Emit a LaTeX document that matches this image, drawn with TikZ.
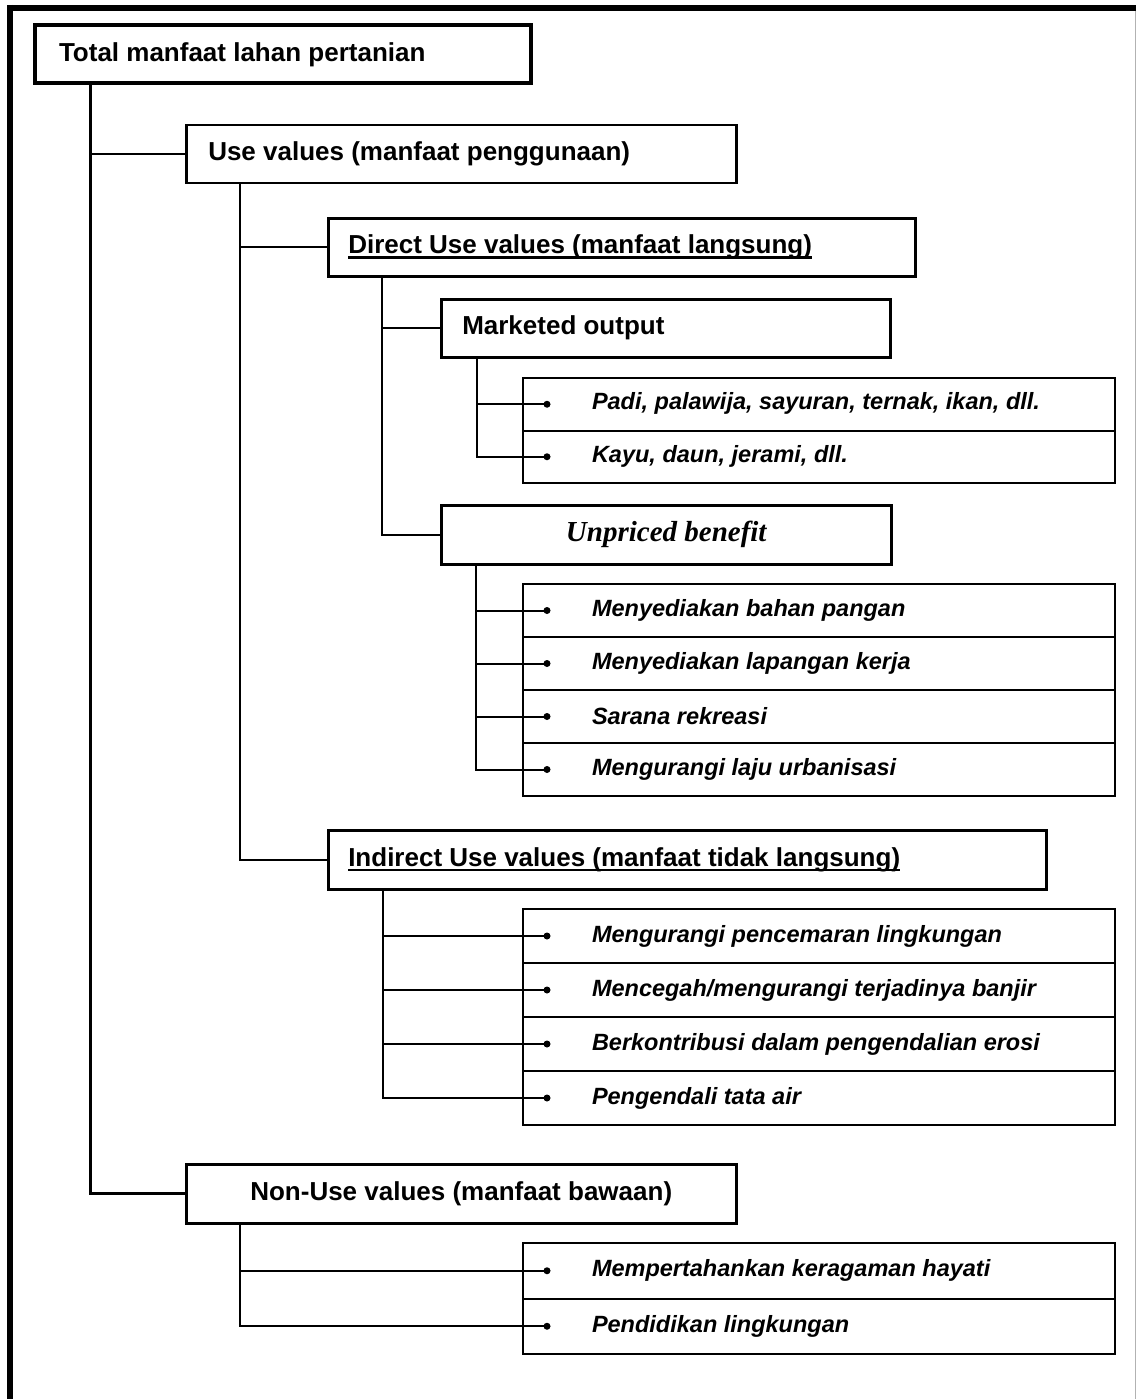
\documentclass[tikz,border=0pt]{standalone}
\usepackage{fontspec}
\setmainfont{Liberation Sans}
\newfontfamily\serifbi{Liberation Serif}
\usetikzlibrary{calc}

% left-padded text line of fixed total width: {width}{left pad}{text}
\newcommand\lpad[3]{\hbox to #1pt{\hspace*{#2pt}#3\hfil}}
% underline drawn through the descenders
\newsavebox\ulbox
\newcommand\hdul[1]{\sbox\ulbox{#1}\rlap{\smash{\rule[-5pt]{\wd\ulbox}{2.6pt}}}\usebox\ulbox}

\begin{document}
\begin{tikzpicture}[x=1pt,y=-1pt,
  hd/.style={draw, line width=2.5pt, anchor=north west, inner sep=0pt,
             font=\fontsize{26}{31}\selectfont\bfseries},
  titlebox/.style={hd, line width=4pt},
  row/.style={draw, line width=2pt, anchor=north west, inner sep=0pt,
              minimum height=#1,
              font=\fontsize{23.5}{28}\selectfont\bfseries\itshape},
  link/.style={line width=2pt},
  trunk/.style={line width=3pt},
  dot/.style={fill=black}
]
\useasboundingbox (0,0) rectangle (1136,1399);

% outer frame
\draw[line width=6pt] (7,8) -- (1136,8);
\draw[line width=6pt] (10,5) -- (10,1399);
\draw[black!30, line width=1pt] (1135,11) -- (1135,1399);

% headings
\node[titlebox, minimum height=58pt] (title) at (33,23.5)
  {\lpad{496}{24}{Total manfaat lahan pertanian}};
\node[hd, minimum height=58pt] (use) at (185,124)
  {\lpad{550}{22}{Use values (manfaat penggunaan)}};
\node[hd, minimum height=58pt] (direct) at (327,217)
  {\lpad{587}{20}{\hdul{Direct Use values (manfaat langsung)}}};
\node[hd, minimum height=58pt] (market) at (440,298)
  {\lpad{449}{21}{Marketed output}};
\node[hd, minimum height=59pt, minimum width=450pt,
      font=\fontsize{29}{34}\selectfont\serifbi\bfseries\itshape] (unpriced) at (440,504)
  {Unpriced benefit};
\node[hd, minimum height=59pt] (indirect) at (327,829)
  {\lpad{718}{20}{\hdul{Indirect Use values (manfaat tidak langsung)}}};
\node[hd, minimum height=59pt, minimum width=550pt] (nonuse) at (185,1163)
  {Non-Use values (manfaat bawaan)};

% item rows
\node[row=52.5pt] (m1) at (522,377)   {\lpad{592}{69}{\raisebox{6pt}{Padi, palawija, sayuran, ternak, ikan, dll.}}};
\node[row=52.5pt] (m2) at (522,429.5) {\lpad{592}{69}{\raisebox{6pt}{Kayu, daun, jerami, dll.}}};

\node[row=53pt] (u1) at (522,583) {\lpad{592}{69}{Menyediakan bahan pangan}};
\node[row=53pt] (u2) at (522,636) {\lpad{592}{69}{Menyediakan lapangan kerja}};
\node[row=53pt] (u3) at (522,689) {\lpad{592}{69}{Sarana rekreasi}};
\node[row=53pt] (u4) at (522,742) {\lpad{592}{69}{Mengurangi laju urbanisasi}};

\node[row=54pt] (i1) at (522,908)  {\lpad{592}{69}{Mengurangi pencemaran lingkungan}};
\node[row=54pt] (i2) at (522,962)  {\lpad{592}{69}{Mencegah/mengurangi terjadinya banjir}};
\node[row=54pt] (i3) at (522,1016) {\lpad{592}{69}{Berkontribusi dalam pengendalian erosi}};
\node[row=54pt] (i4) at (522,1070) {\lpad{592}{69}{Pengendali tata air}};

\node[row=55.5pt] (n1) at (522,1242)   {\lpad{592}{69}{Mempertahankan keragaman hayati}};
\node[row=55.5pt] (n2) at (522,1297.5) {\lpad{592}{69}{Pendidikan lingkungan}};

% bullet points
\foreach \r in {m1,m2,u1,u2,u3,u4,i1,i2,i3,i4,n1,n2}{
  \coordinate (\r b) at ($(\r.west)+(25,0)$);
  \fill[dot] (\r b) circle[radius=3.5pt];
}

% stems below each heading
\coordinate (tstem) at ($(title.south west)+(57.5,0)$);
\coordinate (ustem) at ($(use.south west)+(55,0)$);
\coordinate (dstem) at ($(direct.south west)+(55,0)$);
\coordinate (mstem) at ($(market.south west)+(37,0)$);
\coordinate (pstem) at ($(unpriced.south west)+(35.5,0)$);
\coordinate (istem) at ($(indirect.south west)+(56,0)$);
\coordinate (nstem) at ($(nonuse.south west)+(55,0)$);

% connectors
\draw[link]  (tstem) |- (use.west);
\draw[trunk] (tstem) |- (nonuse.west);
\draw[link]  (ustem) |- (direct.west);
\draw[link]  (ustem) |- (indirect.west);
\draw[link]  (dstem) |- (market.west);
\draw[link]  (dstem) |- (unpriced.west);
\foreach \r in {m1,m2}{\draw[link] (mstem) |- (\r b);}
\foreach \r in {u1,u2,u3,u4}{\draw[link] (pstem) |- (\r b);}
\foreach \r in {i1,i2,i3,i4}{\draw[link] (istem) |- (\r b);}
\foreach \r in {n1,n2}{\draw[link] (nstem) |- (\r b);}
\end{tikzpicture}
\end{document}
